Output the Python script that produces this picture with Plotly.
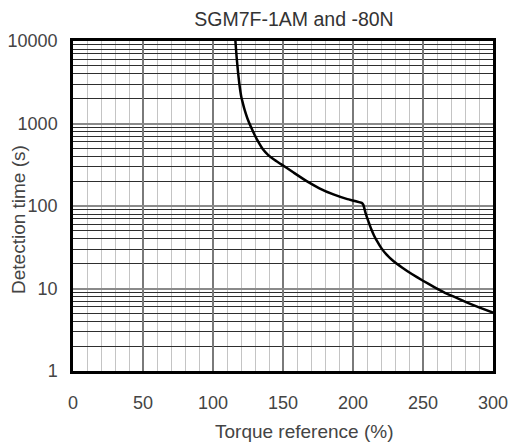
import plotly.graph_objects as go

# Data
torque = [116.0, 116.9, 117.9, 118.9, 120.2, 121.4, 122.6, 124.6, 126.9, 129.5,
          132.1, 135.5, 139.3, 143.8, 148.5, 157, 166.9, 176, 186, 196, 206.2,
          207.4, 209, 211, 213, 215, 217, 220, 224, 229, 235, 242, 250, 258,
          266, 274, 282, 290, 300]
det_time = [10000, 6310, 4170, 2950, 2110, 1740, 1460, 1150, 923, 741,
            610, 490, 417, 363, 322, 258, 200, 164, 138, 121, 109,
            103, 82, 65, 52.5, 44, 38, 31.3, 25.7, 21.4, 18.0, 15.0, 12.4, 10.4,
            8.8, 7.7, 6.7, 5.9, 5.1]

x_ticks = [0, 50, 100, 150, 200, 250, 300]
y_ticks = [1, 10, 100, 1000, 10000]
y_tick_text = ["1", "10", "100", "1000", "10000"]

title_text = "SGM7F-1AM and -80N"
x_title = "Torque reference (%)"
y_title = "Detection time (s)"

FONT = "Liberation Sans, Arial, sans-serif"
TXT = "#444444"

W, H = 514, 444
L, R, T, B = 73, 21, 41, 73
PW, PH = W - L - R, H - T - B

fig = go.Figure()
fig.add_trace(go.Scatter(
    x=torque, y=det_time, mode="lines",
    line=dict(color="black", width=2.5, shape="spline", smoothing=0.3),
    hoverinfo="skip", showlegend=False,
))

fig.update_layout(
    width=W, height=H,
    margin=dict(l=L, r=R, t=T, b=B, autoexpand=False),
    paper_bgcolor="white", plot_bgcolor="white",
    font=dict(family=FONT, size=18, color=TXT),
    title=dict(text=title_text, x=294 / W, xanchor="center",
               y=1 - 19 / H, yanchor="middle",
               font=dict(family=FONT, size=19.5, color="#333333")),
    showlegend=False,
)

fig.update_xaxes(
    range=[0, 300], tickvals=x_ticks, automargin=False,
    showline=True, mirror=True, linecolor="black", linewidth=2.5,
    showgrid=True, gridcolor="#7a7a7a", gridwidth=1.5,
    minor=dict(dtick=10, showgrid=True, gridcolor="#c4c4c4", gridwidth=1),
    ticks="", ticklabelstandoff=14, zeroline=False,
    tickfont=dict(size=18, color=TXT),
)
fig.update_yaxes(
    type="log", range=[0, 4], tickmode="array", tickvals=y_ticks, ticktext=y_tick_text,
    automargin=False,
    showline=True, mirror=True, linecolor="black", linewidth=2.5,
    showgrid=True, gridcolor="#8a8a8a", gridwidth=1.5,
    minor=dict(dtick="D1", showgrid=True, gridcolor="#2e2e2e", gridwidth=1),
    ticks="", ticklabelstandoff=9, zeroline=False,
    tickfont=dict(size=18, color=TXT),
)

fig.add_annotation(text=x_title, xref="paper", yref="paper",
                   x=(304 - L) / PW, y=-(431 - (T + PH)) / PH,
                   xanchor="center", yanchor="middle",
                   showarrow=False, font=dict(family=FONT, size=19, color=TXT))
fig.add_annotation(text=y_title, xref="paper", yref="paper",
                   x=-(L - 18) / PW, y=(T + PH - 220) / PH,
                   xanchor="center", yanchor="middle",
                   textangle=-90, showarrow=False,
                   font=dict(family=FONT, size=19, color=TXT))

fig.write_html("out.html", config={"displayModeBar": False},
               post_script="document.body.style.margin='0';document.body.style.overflow='hidden';")
